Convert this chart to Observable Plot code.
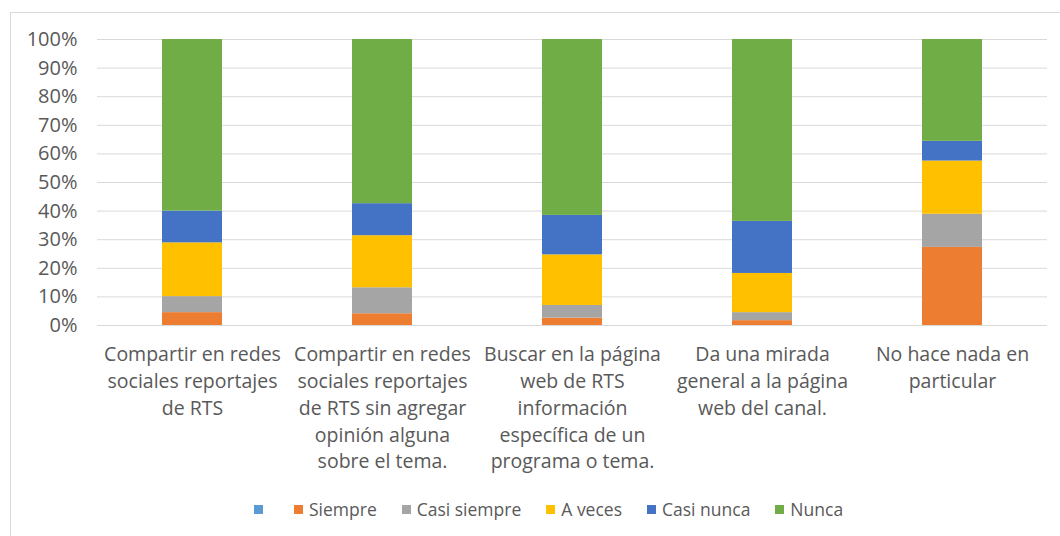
<!DOCTYPE html>
<html><head><meta charset="utf-8">
<script src="https://cdn.jsdelivr.net/npm/d3@7"></script>
<script src="https://cdn.jsdelivr.net/npm/@observablehq/plot@0.6"></script>
<style>
body{margin:0;background:#fff;font-family:"Open Sans",sans-serif;color:#595959;}
#frame{position:absolute;left:10px;top:12px;width:1100px;height:600px;border:1px solid #d9d9d9;box-sizing:border-box;}
#chart{position:absolute;left:0;top:0;}
#legend{position:absolute;top:497px;left:254px;height:24px;display:flex;align-items:center;font-size:17.5px;color:#595959;}
.item{display:flex;align-items:center;margin-right:25px;}
.sw{width:9px;height:9px;margin-right:6px;}
</style></head>
<body>
<div id="frame"></div>
<div id="chart"></div>
<div id="legend"></div>
<script>
const categories = [
  "Compartir en redes\nsociales reportajes\nde RTS",
  "Compartir en redes\nsociales reportajes\nde RTS sin agregar\nopinión alguna\nsobre el tema.",
  "Buscar en la página\nweb de RTS\ninformación\nespecífica de un\nprograma o tema.",
  "Da una mirada\ngeneral a la página\nweb del canal.",
  "No hace nada en\nparticular"
];
const seriesNames = ["", "Siempre", "Casi siempre", "A veces", "Casi nunca", "Nunca"];
const seriesColors = ["#5B9BD5", "#ED7D31", "#A5A5A5", "#FFC000", "#4472C4", "#70AD47"];
const blank       = [0, 0, 0, 0, 0];
const siempre     = [4.5, 4.1, 2.6, 1.7, 27.3];
const casiSiempre = [5.6, 9.1, 4.4, 2.8, 11.6];
const aVeces      = [18.8, 18.2, 17.7, 13.7, 18.6];
const casiNunca   = [11.1, 11.2, 13.8, 18.2, 6.9];
const nunca       = [60.0, 57.4, 61.5, 63.6, 35.6];
const yTicks = [0, 10, 20, 30, 40, 50, 60, 70, 80, 90, 100];

const seriesValues = [blank, siempre, casiSiempre, aVeces, casiNunca, nunca];
const data = [];
seriesNames.forEach((s, si) => categories.forEach((c, ci) => data.push({cat: c, series: s, value: seriesValues[si][ci]})));

const chart = Plot.plot({
  width: 1060,
  height: 490,
  marginLeft: 97,
  marginRight: 13,
  marginTop: 39,
  marginBottom: 165,
  style: {fontFamily: '"Open Sans", sans-serif', color: "#595959", background: "transparent"},
  x: {domain: categories, paddingInner: 0.684, paddingOuter: 0.342, label: null},
  y: {domain: [0, 100], label: null},
  color: {domain: seriesNames, range: seriesColors},
  marks: [
    Plot.ruleY(yTicks, {stroke: "#d9d9d9", strokeWidth: 1}),
    Plot.barY(data, {x: "cat", y: "value", fill: "series", order: seriesNames}),
    Plot.axisY(yTicks, {tickSize: 0, tickPadding: 20, fontSize: 20, tickFormat: d => d + "%", label: null}),
    Plot.axisX({tickSize: 0, tickPadding: 17, fontSize: 19.5, lineHeight: 1.37, label: null})
  ]
});
document.getElementById("chart").appendChild(chart);

const legend = document.getElementById("legend");
seriesNames.forEach((s, i) => {
  const it = document.createElement("div");
  it.className = "item";
  const sw = document.createElement("div");
  sw.className = "sw";
  sw.style.background = seriesColors[i];
  it.appendChild(sw);
  if (s) { const t = document.createElement("span"); t.textContent = s; it.appendChild(t); }
  legend.appendChild(it);
});
</script>
</body></html>
